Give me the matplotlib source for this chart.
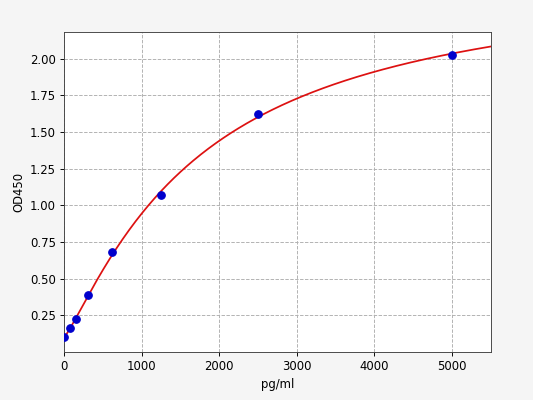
import numpy as np
import matplotlib
matplotlib.use("Agg")
import matplotlib.pyplot as plt

# standard concentrations (pg/ml) and measured OD450
conc = [0, 78.125, 156.25, 312.5, 625, 1250, 2500, 5000]
od450 = [0.100, 0.163, 0.225, 0.392, 0.683, 1.070, 1.620, 2.027]

x_max = 5500


def fit_4pl(x, y):
    # 4PL: y = d + (a - d) / (1 + (x / c) ** b)
    # grid over b, c; a and d solved by linear least squares
    x = np.asarray(x, dtype=float)
    y = np.asarray(y, dtype=float)
    best = None
    for b in np.linspace(0.5, 3.0, 126):
        for c in np.logspace(2.5, 4.5, 201):
            g = 1.0 / (1.0 + (x / c) ** b)
            A = np.column_stack([g, 1.0 - g])
            coef, *_ = np.linalg.lstsq(A, y, rcond=None)
            err = np.sum((A @ coef - y) ** 2)
            if best is None or err < best[0]:
                best = (err, coef[0], b, c, coef[1])
    return best[1:]


a, b, c, d = fit_4pl(conc, od450)
xs = np.linspace(0, x_max, 400)
ys = d + (a - d) / (1 + (xs / c) ** b)

dpi = 83.34
fig = plt.figure(figsize=(6.4, 4.8), dpi=dpi, facecolor="#f5f5f5")
ax = fig.add_axes([0.12, 0.12, 0.80, 0.80])
ax.plot(xs, ys, color="#dd1111", linewidth=1.5, zorder=2)
ax.plot(conc, od450, "o", color="#0000cc", markersize=6.5, zorder=3)
ax.set_xlim(0, x_max)
ax.set_xlabel("pg/ml")
ax.set_ylabel("OD450")
ax.grid(True, linestyle="--", color="#b0b0b0", linewidth=0.8)
for s in ax.spines.values():
    s.set_color("#444444")

fig.savefig("out.png", dpi=dpi, facecolor=fig.get_facecolor())
